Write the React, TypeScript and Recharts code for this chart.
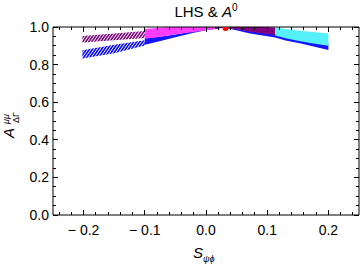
import React from "react";
import { ComposedChart, Area, Scatter, XAxis, YAxis, ReferenceLine } from "recharts";

// ---- data ----
const purpleLeftX = [-0.202, -0.15, -0.1];
const purpleLeftLo = [0.917, 0.929, 0.941];
const purpleLeftHi = [0.952, 0.966, 0.979];

const blueLeftX = [-0.202, -0.15, -0.1];
const blueLeftLo = [0.832, 0.86, 0.901];
const blueLeftHi = [0.876, 0.905, 0.93];

const blueEdgeX = [-0.1, -0.076, -0.05, -0.022, 0, 0.03, 0.072, 0.113, 0.13, 0.155, 0.2];
const blueEdgeLo = [0.905, 0.924, 0.945, 0.968, 0.983, 0.998, 0.966, 0.944, 0.928, 0.912, 0.878];
const blueEdgeHi = [0.94, 0.948, 0.96, 0.976, 0.99, 1.0, 0.977, 0.96, 0.95, 0.935, 0.91];

const magentaX = [-0.1, -0.08, -0.06, -0.04, -0.02, 0, 0.015];
const magentaLo = [0.937, 0.946, 0.956, 0.965, 0.974, 0.983, 0.99];
const magentaHi = [0.99, 0.995, 1.0, 1.0, 1.0, 1.0, 1.0];

const purpleRightX = [0.015, 0.03, 0.05, 0.072, 0.09, 0.113];
const purpleRightLo = [0.99, 0.997, 0.988, 0.975, 0.967, 0.957];
const purpleRightHi = [1.0, 1.0, 1.0, 1.0, 1.0, 0.998];

const cyanX = [0.113, 0.13, 0.15, 0.17, 0.2];
const cyanLo = [0.955, 0.94, 0.927, 0.915, 0.9];
const cyanHi = [0.997, 0.99, 0.982, 0.975, 0.966];

const redX = [0.032];
const redY = [0.995];

const xTicks = [-0.24, -0.22, -0.2, -0.18, -0.16, -0.14, -0.12, -0.1, -0.08, -0.06, -0.04, -0.02, 0,
  0.02, 0.04, 0.06, 0.08, 0.1, 0.12, 0.14, 0.16, 0.18, 0.2, 0.22, 0.24];
const xMajor = [-0.2, -0.1, 0, 0.1, 0.2];
const xMajorLabels = ["\u2212 0.2", "\u2212 0.1", "0.0", "0.1", "0.2"];

const yTicks = [0, 0.05, 0.1, 0.15, 0.2, 0.25, 0.3, 0.35, 0.4, 0.45, 0.5, 0.55, 0.6, 0.65, 0.7,
  0.75, 0.8, 0.85, 0.9, 0.95, 1.0];
const yMajor = [0, 0.2, 0.4, 0.6, 0.8, 1.0];
const yMajorLabels = ["0.0", "0.2", "0.4", "0.6", "0.8", "1.0"];

// ---- layout ----
const W = 360;
const H = 266;
const PLOT_TOP = 27;
const PLOT_RIGHT = 359;
const FONT = "'Liberation Sans', Arial, sans-serif";

const band = (xs: number[], lo: number[], hi: number[]) =>
  xs.map((x, i) => ({ x, range: [lo[i], hi[i]] }));

const majorIndex = (list: number[], v: number) =>
  list.findIndex((m) => Math.abs(m - v) < 1e-9);

const XTick = (props: any) => {
  const { x, y, payload } = props;
  const mi = majorIndex(xMajor, payload.value);
  const len = mi >= 0 ? 5 : 3;
  return (
    <g>
      <line x1={x} y1={y} x2={x} y2={y - len} stroke="#000" shapeRendering="crispEdges" />
      <line x1={x} y1={PLOT_TOP} x2={x} y2={PLOT_TOP + len} stroke="#000" shapeRendering="crispEdges" />
      {mi >= 0 && (
        <text x={x} y={y + 20} textAnchor="middle" fontSize={14} fontFamily={FONT} fill="#000">
          {xMajorLabels[mi]}
        </text>
      )}
    </g>
  );
};

const YTick = (props: any) => {
  const { x, y, payload } = props;
  const mi = majorIndex(yMajor, payload.value);
  const len = mi >= 0 ? 5 : 3;
  return (
    <g>
      <line x1={x} y1={y} x2={x + len} y2={y} stroke="#000" shapeRendering="crispEdges" />
      <line x1={PLOT_RIGHT} y1={y} x2={PLOT_RIGHT - len} y2={y} stroke="#000" shapeRendering="crispEdges" />
      {mi >= 0 && (
        <text x={x - 4} y={y + 5} textAnchor="end" fontSize={14} fontFamily={FONT} fill="#000">
          {yMajorLabels[mi]}
        </text>
      )}
    </g>
  );
};

export default function App() {
  const red = redX.map((x, i) => ({ x, y: redY[i] }));
  return (
    <div style={{ position: "absolute", left: 0, top: 0, width: W, height: H, background: "#fff" }}>
      <ComposedChart width={W} height={H} margin={{ top: PLOT_TOP, right: W - PLOT_RIGHT, left: 0, bottom: 0 }}>
        <defs>
          <pattern id="purpleDots" width="3" height="3" patternUnits="userSpaceOnUse" patternTransform="skewX(-35)">
            <rect x="0" y="0" width="2" height="3" fill="#7d0a80" />
          </pattern>
          <pattern id="blueDots" width="3" height="3" patternUnits="userSpaceOnUse" patternTransform="skewX(-35)">
            <rect x="0" y="0" width="2" height="3" fill="#0a0aff" />
          </pattern>
        </defs>
        <XAxis
          dataKey="x"
          type="number"
          domain={[-0.25, 0.25]}
          allowDataOverflow
          ticks={xTicks}
          interval={0}
          tickSize={0}
          tickMargin={0}
          tickLine={false}
          tick={<XTick />}
          axisLine={{ stroke: "#000" }}
          height={H - 215}
        />
        <YAxis
          type="number"
          domain={[0, 1]}
          allowDataOverflow
          ticks={yTicks}
          interval={0}
          tickSize={0}
          tickMargin={0}
          tickLine={false}
          tick={<YTick />}
          axisLine={{ stroke: "#000" }}
          width={53}
        />
        <ReferenceLine y={1} stroke="#000" />
        <ReferenceLine x={0.25} stroke="#000" />
        <Area data={band(blueLeftX, blueLeftLo, blueLeftHi)} dataKey="range" type="linear"
          stroke="none" fill="url(#blueDots)" fillOpacity={1} isAnimationActive={false} dot={false} activeDot={false} />
        <Area data={band(purpleLeftX, purpleLeftLo, purpleLeftHi)} dataKey="range" type="linear"
          stroke="none" fill="url(#purpleDots)" fillOpacity={1} isAnimationActive={false} dot={false} activeDot={false} />
        <Area data={band(blueEdgeX, blueEdgeLo, blueEdgeHi)} dataKey="range" type="linear"
          stroke="none" fill="#1414ff" fillOpacity={1} isAnimationActive={false} dot={false} activeDot={false} />
        <Area data={band(magentaX, magentaLo, magentaHi)} dataKey="range" type="linear"
          stroke="none" fill="#ff3cff" fillOpacity={1} isAnimationActive={false} dot={false} activeDot={false} />
        <Area data={band(purpleRightX, purpleRightLo, purpleRightHi)} dataKey="range" type="linear"
          stroke="none" fill="#800080" fillOpacity={1} isAnimationActive={false} dot={false} activeDot={false} />
        <Area data={band(cyanX, cyanLo, cyanHi)} dataKey="range" type="linear"
          stroke="none" fill="#55f0fa" fillOpacity={1} isAnimationActive={false} dot={false} activeDot={false} />
        <Scatter data={red} dataKey="y" isAnimationActive={false}
          shape={(p: any) => <circle cx={p.cx} cy={p.cy} r={3} fill="#ff0000" />} />
      </ComposedChart>
      <svg width={W} height={H} style={{ position: "absolute", left: 0, top: 0, pointerEvents: "none" }}>
        <text x={206} y={17} textAnchor="middle" fontSize={15} fontFamily={FONT} fill="#000" xmlSpace="preserve">
          LHS &amp; <tspan fontStyle="italic">A</tspan>
          <tspan fontSize={10} dy={-6}>0</tspan>
        </text>
        <text x={193} y={258} fontSize={15} fontFamily={FONT} fill="#000">
          <tspan fontStyle="italic">S</tspan>
          <tspan fontSize={9} dy={4} fontStyle="italic">ψϕ</tspan>
        </text>
        <g transform="translate(14,122) rotate(-90)">
          <text x={-16} y={0} fontSize={15} fontFamily={FONT} fontStyle="italic" fill="#000">A</text>
          <text x={-2} y={-5} fontSize={9} fontFamily={FONT} fontStyle="italic" fill="#000">μμ</text>
          <text x={-1} y={5} fontSize={9} fontFamily={FONT} fill="#000">ΔΓ</text>
        </g>
      </svg>
    </div>
  );
}
